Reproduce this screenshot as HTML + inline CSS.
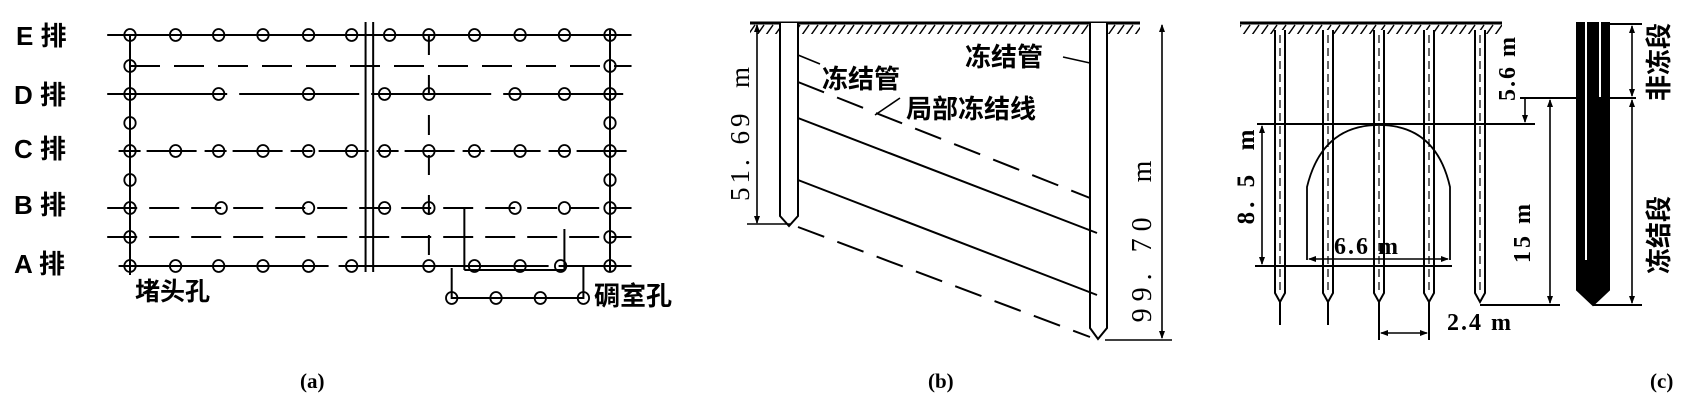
<!DOCTYPE html>
<html><head><meta charset="utf-8"><style>
body{margin:0;background:#fff}
svg{display:block}
text{font-family:"Liberation Serif","Noto Serif CJK SC",serif;fill:#000}
.cjk{font-family:"Liberation Sans","Noto Sans CJK SC",sans-serif;font-weight:bold}
.sa *{vector-effect:non-scaling-stroke}
</style></head><body>
<svg width="1693" height="411" viewBox="0 0 1693 411" xmlns="http://www.w3.org/2000/svg">
<defs>
<pattern id="hatch" width="9" height="12" patternUnits="userSpaceOnUse">
<line x1="1" y1="11" x2="8" y2="1" stroke="#000" stroke-width="1.5"/>
</pattern>
<marker id="ar" markerWidth="8" markerHeight="8" refX="7" refY="4" orient="auto-start-reverse" markerUnits="userSpaceOnUse"><path d="M0,1 L8,4 L0,7 Z" fill="#000"/></marker>
</defs>
<g stroke="#000" stroke-width="2" fill="none">
<!-- Panel (a) -->
<g class="sa" transform="translate(130,0) scale(1.2665,1) translate(-104,0)">
<line x1="86" y1="35" x2="500" y2="35"/>
<line x1="86" y1="94" x2="500" y2="94" stroke-dasharray="120,12"/>
<line x1="95" y1="151" x2="500" y2="151" stroke-dasharray="22,6,50,8"/>
<line x1="86" y1="208" x2="500" y2="208" stroke-dasharray="30,12"/>
<line x1="95" y1="266" x2="500" y2="266" stroke-dasharray="210,10"/>
<line x1="104" y1="66" x2="500" y2="66" stroke-dasharray="30,14"/>
<line x1="86" y1="237" x2="500" y2="237" stroke-dasharray="30,12"/>
<line x1="104" y1="35" x2="104" y2="275"/>
<line x1="483" y1="30" x2="483" y2="272"/>
<line x1="290" y1="22" x2="290" y2="272"/>
<line x1="296" y1="22" x2="296" y2="272"/>
<line x1="340" y1="35" x2="340" y2="270" stroke-dasharray="20,20"/>
<line x1="368" y1="208" x2="368" y2="270"/>
<line x1="368" y1="270" x2="447" y2="270"/>
<line x1="447" y1="229" x2="447" y2="270"/>
<polyline points="358,268 358,298 462,298 462,266"/>
<g stroke-width="1.8">
<ellipse cx="104" cy="35" rx="4.5" ry="6"/><ellipse cx="140" cy="35" rx="4.5" ry="6"/><ellipse cx="174" cy="35" rx="4.5" ry="6"/><ellipse cx="209" cy="35" rx="4.5" ry="6"/><ellipse cx="245" cy="35" rx="4.5" ry="6"/><ellipse cx="279" cy="35" rx="4.5" ry="6"/><ellipse cx="309" cy="35" rx="4.5" ry="6"/><ellipse cx="340" cy="35" rx="4.5" ry="6"/><ellipse cx="376" cy="35" rx="4.5" ry="6"/><ellipse cx="412" cy="35" rx="4.5" ry="6"/><ellipse cx="447" cy="35" rx="4.5" ry="6"/><ellipse cx="483" cy="35" rx="4.5" ry="6"/>
<ellipse cx="104" cy="66" rx="4.5" ry="6"/><ellipse cx="483" cy="66" rx="4.5" ry="6"/>
<ellipse cx="104" cy="94" rx="4.5" ry="6"/><ellipse cx="174" cy="94" rx="4.5" ry="6"/><ellipse cx="245" cy="94" rx="4.5" ry="6"/><ellipse cx="305" cy="94" rx="4.5" ry="6"/><ellipse cx="340" cy="94" rx="4.5" ry="6"/><ellipse cx="408" cy="94" rx="4.5" ry="6"/><ellipse cx="447" cy="94" rx="4.5" ry="6"/><ellipse cx="483" cy="94" rx="4.5" ry="6"/>
<ellipse cx="104" cy="123" rx="4.5" ry="6"/><ellipse cx="483" cy="123" rx="4.5" ry="6"/>
<ellipse cx="104" cy="151" rx="4.5" ry="6"/><ellipse cx="140" cy="151" rx="4.5" ry="6"/><ellipse cx="174" cy="151" rx="4.5" ry="6"/><ellipse cx="209" cy="151" rx="4.5" ry="6"/><ellipse cx="245" cy="151" rx="4.5" ry="6"/><ellipse cx="279" cy="151" rx="4.5" ry="6"/><ellipse cx="305" cy="151" rx="4.5" ry="6"/><ellipse cx="340" cy="151" rx="4.5" ry="6"/><ellipse cx="376" cy="151" rx="4.5" ry="6"/><ellipse cx="412" cy="151" rx="4.5" ry="6"/><ellipse cx="447" cy="151" rx="4.5" ry="6"/><ellipse cx="483" cy="151" rx="4.5" ry="6"/>
<ellipse cx="104" cy="180" rx="4.5" ry="6"/><ellipse cx="483" cy="180" rx="4.5" ry="6"/>
<ellipse cx="104" cy="208" rx="4.5" ry="6"/><ellipse cx="176" cy="208" rx="4.5" ry="6"/><ellipse cx="245" cy="208" rx="4.5" ry="6"/><ellipse cx="305" cy="208" rx="4.5" ry="6"/><ellipse cx="340" cy="208" rx="4.5" ry="6"/><ellipse cx="408" cy="208" rx="4.5" ry="6"/><ellipse cx="447" cy="208" rx="4.5" ry="6"/><ellipse cx="483" cy="208" rx="4.5" ry="6"/>
<ellipse cx="104" cy="237" rx="4.5" ry="6"/><ellipse cx="483" cy="237" rx="4.5" ry="6"/>
<ellipse cx="104" cy="266" rx="4.5" ry="6"/><ellipse cx="140" cy="266" rx="4.5" ry="6"/><ellipse cx="174" cy="266" rx="4.5" ry="6"/><ellipse cx="209" cy="266" rx="4.5" ry="6"/><ellipse cx="245" cy="266" rx="4.5" ry="6"/><ellipse cx="279" cy="266" rx="4.5" ry="6"/><ellipse cx="340" cy="266" rx="4.5" ry="6"/><ellipse cx="376" cy="266" rx="4.5" ry="6"/><ellipse cx="412" cy="266" rx="4.5" ry="6"/><ellipse cx="444" cy="266" rx="4.5" ry="6"/><ellipse cx="483" cy="266" rx="4.5" ry="6"/>
<ellipse cx="358" cy="298" rx="4.5" ry="6"/><ellipse cx="393" cy="298" rx="4.5" ry="6"/><ellipse cx="428" cy="298" rx="4.5" ry="6"/><ellipse cx="462" cy="298" rx="4.5" ry="6"/>
</g>
</g>

<!-- Panel (b) -->
<rect x="750" y="23" width="390" height="11" fill="url(#hatch)" stroke="none"/>
<line x1="750" y1="23" x2="1140" y2="23" stroke-width="3"/>
<path d="M780,23 V216 L789,226 L798,216 V23" fill="#fff"/>
<path d="M1090,23 V328 L1098,339 L1107,328 V23" fill="#fff"/>
<line x1="757" y1="25" x2="757" y2="223" marker-start="url(#ar)" marker-end="url(#ar)" stroke-width="1.6"/>
<line x1="747" y1="224" x2="790" y2="224" stroke-width="1.6"/>
<line x1="1162" y1="25" x2="1162" y2="338" marker-start="url(#ar)" marker-end="url(#ar)" stroke-width="1.6"/>
<line x1="1105" y1="340" x2="1172" y2="340" stroke-width="1.6"/>
<line x1="798" y1="82" x2="1090" y2="198" stroke-dasharray="28,14"/>
<line x1="798" y1="118" x2="1097" y2="233"/>
<line x1="798" y1="180" x2="1097" y2="295"/>
<line x1="798" y1="227" x2="1090" y2="337" stroke-dasharray="28,14"/>
<line x1="798" y1="55" x2="820" y2="64" stroke-width="1.6"/>
<line x1="1063" y1="57" x2="1090" y2="63" stroke-width="1.6"/>
<line x1="875" y1="115" x2="900" y2="98" stroke-width="1.6"/>

<!-- Panel (c) -->
<rect x="1240" y="23" width="262" height="11" fill="url(#hatch)" stroke="none"/>
<line x1="1240" y1="23" x2="1502" y2="23" stroke-width="3"/>
<g fill="#fff">
<path d="M1275,30 V293 L1280,302 L1285,293 V30"/><line x1="1280" y1="302" x2="1280" y2="325"/>
<path d="M1323,30 V293 L1328,302 L1333,293 V30"/><line x1="1328" y1="302" x2="1328" y2="325"/>
<path d="M1374,30 V293 L1379,302 L1384,293 V30"/><line x1="1379" y1="302" x2="1379" y2="340"/>
<path d="M1424,30 V293 L1429,302 L1434,293 V30"/><line x1="1429" y1="302" x2="1429" y2="340"/>
<path d="M1475,30 V293 L1480,302 L1485,293 V30"/>
</g>
<g stroke-dasharray="8,5" stroke-width="1.2">
<line x1="1280" y1="35" x2="1280" y2="290"/><line x1="1328" y1="35" x2="1328" y2="290"/><line x1="1379" y1="35" x2="1379" y2="290"/><line x1="1429" y1="35" x2="1429" y2="290"/><line x1="1480" y1="35" x2="1480" y2="290"/>
</g>
<line x1="1257" y1="124" x2="1535" y2="124"/>
<line x1="1255" y1="266" x2="1452" y2="266"/>
<path d="M1307,260 V187 Q1322,125 1379,125 Q1436,125 1450,187 V260" stroke-width="1.8"/>
<line x1="1309" y1="259" x2="1448" y2="259" marker-start="url(#ar)" marker-end="url(#ar)" stroke-width="1.6"/>
<line x1="1262" y1="126" x2="1262" y2="264" marker-start="url(#ar)" marker-end="url(#ar)" stroke-width="1.6"/>
<line x1="1520" y1="98" x2="1636" y2="98"/>
<line x1="1525" y1="99" x2="1525" y2="122" marker-end="url(#ar)" stroke-width="1.6"/>
<line x1="1550" y1="100" x2="1550" y2="303" marker-start="url(#ar)" marker-end="url(#ar)" stroke-width="1.6"/>
<line x1="1480" y1="305" x2="1560" y2="305"/>
<line x1="1381" y1="333" x2="1427" y2="333" marker-start="url(#ar)" marker-end="url(#ar)" stroke-width="1.6"/>
<path d="M1577,23 V290 L1593,305 L1609,290 V23 Z" fill="#000"/>
<line x1="1586" y1="20" x2="1586" y2="260" stroke="#fff" stroke-width="2"/>
<line x1="1600" y1="20" x2="1600" y2="97" stroke="#fff" stroke-width="2"/>
<line x1="1610" y1="24" x2="1642" y2="24"/>
<line x1="1593" y1="305" x2="1642" y2="305"/>
<line x1="1632" y1="26" x2="1632" y2="96" marker-start="url(#ar)" marker-end="url(#ar)" stroke-width="1.6"/>
<line x1="1632" y1="100" x2="1632" y2="303" marker-start="url(#ar)" marker-end="url(#ar)" stroke-width="1.6"/>
</g>

<g font-size="26" font-weight="bold">
<text x="16" y="45" class="cjk">E 排</text>
<text x="14" y="104" class="cjk">D 排</text>
<text x="14" y="158" class="cjk">C 排</text>
<text x="14" y="214" class="cjk">B 排</text>
<text x="14" y="273" class="cjk">A 排</text>
</g>
<text x="135" y="300" font-size="25" class="cjk">堵头孔</text>
<text x="594" y="305" font-size="26" class="cjk">碉室孔</text>
<text x="822" y="88" font-size="26" class="cjk">冻结管</text>
<text x="965" y="66" font-size="26" class="cjk">冻结管</text>
<text x="906" y="118" font-size="26" class="cjk">局部冻结线</text>
<text transform="translate(749,132) rotate(-90)" font-size="27" letter-spacing="4" text-anchor="middle">51.&#160;69&#160;&#160;m</text>
<text transform="translate(1151,238) rotate(-90)" font-size="28" letter-spacing="7" text-anchor="middle">99.&#160;70&#160;&#160;m</text>
<text transform="translate(1254,175) rotate(-90)" font-size="25" letter-spacing="4" text-anchor="middle" font-weight="bold">8.&#160;5&#160;&#160;m</text>
<text x="1334" y="254" font-size="24" font-weight="bold" letter-spacing="2">6.6  m</text>
<text transform="translate(1515,68) rotate(-90)" font-size="24" letter-spacing="2" text-anchor="middle" font-weight="bold">5.6 m</text>
<text transform="translate(1530,232) rotate(-90)" font-size="24" letter-spacing="3" text-anchor="middle" font-weight="bold">15 m</text>
<text x="1447" y="330" font-size="24" font-weight="bold" letter-spacing="2">2.4 m</text>
<text transform="translate(1668,62) rotate(-90)" font-size="26" text-anchor="middle" class="cjk">非冻段</text>
<text transform="translate(1668,235) rotate(-90)" font-size="26" text-anchor="middle" class="cjk">冻结段</text>
<text x="300" y="388" font-size="21" font-weight="bold">(a)</text>
<text x="928" y="388" font-size="21" font-weight="bold">(b)</text>
<text x="1650" y="388" font-size="21" font-weight="bold">(c)</text>
</svg>
</body></html>
